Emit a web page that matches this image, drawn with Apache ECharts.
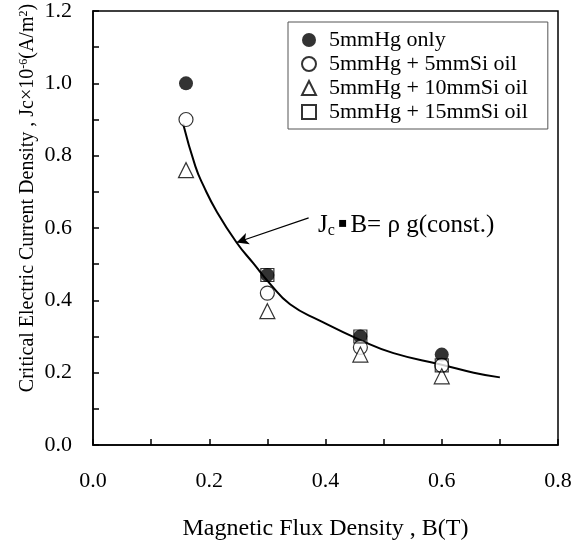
<!DOCTYPE html>
<html>
<head>
<meta charset="utf-8">
<script src="https://cdn.jsdelivr.net/npm/echarts@6/dist/echarts.min.js"></script>
<style>
  html, body { margin: 0; padding: 0; background: #fff; }
  #chartsDom { width: 580px; height: 546px; }
</style>
</head>
<body>
<div id="chartsDom"></div>
<script>
// data
const seriesNames = ["5mmHg only", "5mmHg + 5mmSi oil", "5mmHg + 10mmSi oil", "5mmHg + 15mmSi oil"];
const hgOnly = [[0.16, 1.0], [0.3, 0.47], [0.46, 0.30], [0.6, 0.25]];
const si5 = [[0.16, 0.90], [0.3, 0.42], [0.46, 0.27], [0.6, 0.22]];
const si10 = [[0.16, 0.76], [0.3, 0.37], [0.46, 0.25], [0.6, 0.19]];
const si15 = [[0.3, 0.47], [0.46, 0.30], [0.6, 0.22]];
// J·B = const curve, traced
const fitCurve = [[0.155, 0.888], [0.176, 0.771], [0.19, 0.717], [0.213, 0.645], [0.247, 0.56],
  [0.276, 0.502], [0.305, 0.445], [0.339, 0.389], [0.39, 0.344], [0.46, 0.29],
  [0.517, 0.254], [0.6, 0.222], [0.655, 0.2], [0.7, 0.187]];
// arrow from label to curve
const arrowFrom = [0.371, 0.628];
const arrowTo = [0.247, 0.56];

const font = "'Liberation Serif', 'Times New Roman', serif";
const myChart = echarts.init(document.getElementById("chartsDom"));

function tickLabel(v) {
  const k = Math.round(v * 10);
  return k % 2 === 0 ? (k / 10).toFixed(1) : "";
}

const option = {
  animation: false,
  backgroundColor: "#fff",
  textStyle: { fontFamily: font, color: "#000" },
  grid: { left: 93, right: 22, top: 11, bottom: 90, show: true, borderColor: "#000", borderWidth: 1.5 },
  legend: {
    orient: "vertical",
    left: 288,
    top: 22,
    padding: [7, 20, 6, 13],
    itemGap: 2,
    itemWidth: 14,
    itemHeight: 14,
    borderColor: "#555",
    borderWidth: 1,
    data: seriesNames,
    textStyle: { fontFamily: font, fontSize: 22, color: "#000", padding: [0, 0, 0, 8] }
  },
  xAxis: {
    type: "value",
    min: 0,
    max: 0.8,
    interval: 0.1,
    name: "Magnetic Flux Density , B(T)",
    nameLocation: "middle",
    nameGap: 72,
    nameTextStyle: { fontFamily: font, fontSize: 24, color: "#000" },
    axisLine: { lineStyle: { color: "#000", width: 1.5 } },
    axisTick: { inside: true, length: 6, lineStyle: { color: "#000", width: 1.5 } },
    axisLabel: { formatter: tickLabel, margin: 25, fontFamily: font, fontSize: 22, color: "#000" },
    splitLine: { show: false }
  },
  yAxis: {
    type: "value",
    min: 0,
    max: 1.2,
    interval: 0.1,
    axisLine: { lineStyle: { color: "#000", width: 1.5 } },
    axisTick: { inside: true, length: 6, lineStyle: { color: "#000", width: 1.5 } },
    axisLabel: { formatter: tickLabel, margin: 21, fontFamily: font, fontSize: 22, color: "#000" },
    splitLine: { show: false }
  },
  graphic: [
    {
      type: "text",
      x: 28,
      y: 198,
      rotation: Math.PI / 2,
      style: {
        text: "Critical Electric Current Density , Jc\u00d710{sup|-6}(A/m{sup|2})",
        font: "20px " + font,
        fill: "#000",
        align: "center",
        verticalAlign: "middle",
        rich: { sup: { fontSize: 12, fontFamily: font, verticalAlign: "top", fill: "#000" } }
      }
    }
  ],
  series: [
    {
      name: "fit",
      type: "line",
      data: fitCurve,
      smooth: true,
      showSymbol: false,
      lineStyle: { color: "#000", width: 2 },
      z: 1,
      markLine: {
        silent: true,
        symbol: ["none", "arrow"],
        symbolSize: [9, 12],
        lineStyle: { color: "#000", width: 1.2, type: "solid" },
        label: {
          show: true,
          position: "start",
          distance: 10,
          padding: [22, 0, 0, 0],
          formatter: "{j|J}{sub|c}{dot|\u25aa}{j|B= \u03c1 g(const.)}",
          rich: {
            j: { fontFamily: font, fontSize: 25, color: "#000" },
            dot: { fontFamily: "DejaVu Sans", fontSize: 14, color: "#000", padding: [0, 3, 4, 3] },
            sub: { fontFamily: font, fontSize: 16, color: "#000", verticalAlign: "bottom", padding: [10, 0, 0, 0] }
          }
        },
        data: [[{ coord: arrowFrom }, { coord: arrowTo }]]
      }
    },
    {
      name: seriesNames[0],
      type: "scatter",
      data: hgOnly,
      symbol: "circle",
      symbolSize: 14,
      itemStyle: { color: "#000" },
      z: 2
    },
    {
      name: seriesNames[1],
      type: "scatter",
      data: si5,
      symbol: "circle",
      symbolSize: 14,
      itemStyle: { color: "#fff", borderColor: "#000", borderWidth: 1.2 },
      z: 3
    },
    {
      name: seriesNames[2],
      type: "scatter",
      data: si10,
      symbol: "triangle",
      symbolSize: 15,
      itemStyle: { color: "#fff", borderColor: "#000", borderWidth: 1.2 },
      z: 3
    },
    {
      name: seriesNames[3],
      type: "scatter",
      data: si15,
      symbol: "rect",
      symbolSize: 13,
      itemStyle: { color: "rgba(255,255,255,0)", borderColor: "#000", borderWidth: 1.2 },
      z: 4
    }
  ]
};
option && myChart.setOption(option);
</script>
</body>
</html>
